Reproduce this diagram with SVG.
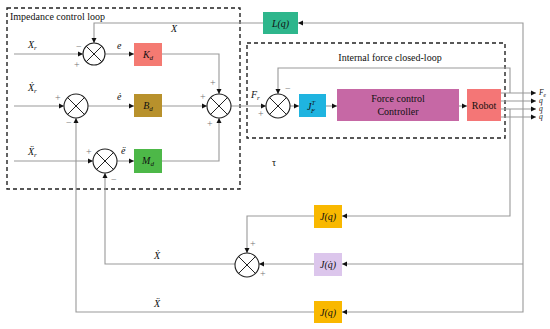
<svg xmlns="http://www.w3.org/2000/svg" width="550" height="329" viewBox="0 0 550 329">
<defs>
<marker id="ar" markerWidth="6" markerHeight="6" refX="5" refY="3" orient="auto" markerUnits="userSpaceOnUse">
<path d="M0,0.5 L5,3 L0,5.5 Z" fill="#111"/>
</marker>
<style>
.ln{fill:none;stroke:#999;stroke-width:1.1;}
.ar{marker-end:url(#ar);}
.dash{fill:none;stroke:#222;stroke-width:1.4;stroke-dasharray:4,3;}
.sum circle{fill:#fff;stroke:#222;stroke-width:1.1;}
.sum path{stroke:#222;stroke-width:1;fill:none;}
.t{font-family:"Liberation Serif",serif;font-size:10px;fill:#111;}
.m{font-family:"Liberation Serif",serif;font-size:10px;font-style:italic;fill:#111;}
.o{font-family:"Liberation Serif",serif;font-size:7.5px;font-style:italic;fill:#111;}
.s{font-family:"Liberation Serif",serif;font-size:10px;fill:#777;}
.box text{text-anchor:middle;}
</style>
</defs>
<rect width="550" height="329" fill="#fff"/>

<g id="frames">
<rect class="dash" x="7" y="8" width="233" height="181"/>
<rect class="dash" x="247" y="43" width="258" height="95"/>
<text class="t" x="10" y="20">Impedance control loop</text>
<text class="t" x="390" y="61" text-anchor="middle">Internal force closed-loop</text>
</g>

<g id="connectors">
<path class="ln ar" d="M14,54 H83"/>
<path class="ln ar" d="M263,23 H94 V43"/>
<path class="ln ar" d="M105,54 H134"/>
<path class="ln ar" d="M162,54 H219 V94"/>
<path class="ln ar" d="M14,106 H64"/>
<path class="ln ar" d="M88,106 H134"/>
<path class="ln ar" d="M162,106 H207"/>
<path class="ln ar" d="M14,161 H93"/>
<path class="ln ar" d="M117,161 H134"/>
<path class="ln ar" d="M161,161 H219 V118"/>
<path class="ln ar" d="M231,106 H266"/>
<path class="ln ar" d="M290,106 H299"/>
<path class="ln ar" d="M326,106 H337"/>
<path class="ln ar" d="M459,106 H467"/>
<path class="ln ar" d="M501,93 H536"/>
<path class="ln ar" d="M501,101 H536"/>
<path class="ln ar" d="M501,109 H536"/>
<path class="ln ar" d="M501,117 H536"/>
<path class="ln ar" d="M510,93 V68 H278 V94"/>
<path class="ln ar" d="M523,101 V23 H298"/>
<path class="ln ar" d="M523,101 V312 H342"/>
<path class="ln ar" d="M523,264 H342"/>
<path class="ln ar" d="M510,109 V216 H342"/>
<path class="ln ar" d="M314,216 H247 V253"/>
<path class="ln ar" d="M314,264 H259"/>
<path class="ln ar" d="M235,264 H105 V173"/>
<path class="ln ar" d="M314,312 H76 V118"/>
</g>

<g id="sum1" class="sum"><circle cx="94" cy="54" r="11"/><path d="M86.2,46.2 L101.8,61.8 M101.8,46.2 L86.2,61.8"/></g>
<g id="sum2" class="sum"><circle cx="76" cy="106" r="12"/><path d="M67.5,97.5 L84.5,114.5 M84.5,97.5 L67.5,114.5"/></g>
<g id="sum3" class="sum"><circle cx="105" cy="161" r="12"/><path d="M96.5,152.5 L113.5,169.5 M113.5,152.5 L96.5,169.5"/></g>
<g id="sum4" class="sum"><circle cx="219" cy="106" r="12"/><path d="M210.5,97.5 L227.5,114.5 M227.5,97.5 L210.5,114.5"/></g>
<g id="sum5" class="sum"><circle cx="278" cy="106" r="12"/><path d="M269.5,97.5 L286.5,114.5 M286.5,97.5 L269.5,114.5"/></g>
<g id="sum6" class="sum"><circle cx="247" cy="265" r="12"/><path d="M238.5,256.5 L255.5,273.5 M255.5,256.5 L238.5,273.5"/></g>

<g id="Kd" class="box"><rect x="134" y="43" width="28" height="23" fill="#f47a72"/><text class="m" x="148" y="58">K<tspan font-size="7" dy="2">d</tspan></text></g>
<g id="Bd" class="box"><rect x="134" y="94" width="28" height="23" fill="#b8912c"/><text class="m" x="148" y="109">B<tspan font-size="7" dy="2">d</tspan></text></g>
<g id="Md" class="box"><rect x="134" y="149" width="28" height="24" fill="#4db848"/><text class="m" x="148" y="164">M<tspan font-size="7" dy="2">d</tspan></text></g>
<g id="JFT" class="box"><rect x="299" y="94" width="27" height="23" fill="#1fb4e0"/><text class="m" x="311" y="110">J<tspan font-size="6.5" dy="-5">T</tspan><tspan font-size="6.5" dx="-4" dy="8">F</tspan></text></g>
<g id="FC" class="box"><rect x="337" y="89" width="122" height="32" fill="#c668a5"/><text class="t" x="398" y="102">Force control</text><text class="t" x="398" y="115">Controller</text></g>
<g id="Robot" class="box"><rect x="467" y="89" width="34" height="32" fill="#f47676"/><text class="t" x="484" y="109">Robot</text></g>
<g id="Lq" class="box"><rect x="263" y="12" width="35" height="22" fill="#2eb68c"/><text class="m" x="280.5" y="27">L(q)</text></g>
<g id="Jq1" class="box"><rect x="314" y="205" width="28" height="23" fill="#f9b800"/><text class="m" x="328" y="220">J(q)</text></g>
<g id="Jdq" class="box"><rect x="314" y="253" width="28" height="23" fill="#dcc6ec"/><text class="m" x="328" y="268">J(q̇)</text></g>
<g id="Jq2" class="box"><rect x="314" y="301" width="28" height="22" fill="#f9b800"/><text class="m" x="328" y="316">J(q)</text></g>

<g id="labels">
<text class="m" x="28" y="48">X<tspan font-size="7" dy="2">r</tspan></text>
<text class="m" x="28" y="91">Ẋ<tspan font-size="7" dy="2">r</tspan></text>
<text class="m" x="28" y="155">Ẍ<tspan font-size="7" dy="2">r</tspan></text>
<text class="m" x="117" y="49">e</text>
<text class="m" x="117" y="100">ė</text>
<text class="m" x="121" y="154">ë</text>
<text class="m" x="171" y="32">X</text>
<text class="m" x="251" y="98">F<tspan font-size="7" dy="2">r</tspan></text>
<text class="t" x="272" y="166">τ</text>
<text class="m" x="154" y="259">Ẋ</text>
<text class="m" x="154" y="307">Ẍ</text>
<text class="o" x="539" y="95">F<tspan font-size="5.5" dy="1.5">e</tspan></text>
<text class="o" x="539" y="103">q</text>
<text class="o" x="539" y="111">q̇</text>
<text class="o" x="539" y="119">q̈</text>
<text class="s" x="76" y="50">−</text>
<text class="s" x="74" y="68">+</text>
<text class="s" x="55" y="101">+</text>
<text class="s" x="66" y="126">−</text>
<text class="s" x="86" y="155">+</text>
<text class="s" x="111" y="183">−</text>
<text class="s" x="210" y="86">+</text>
<text class="s" x="200" y="100">+</text>
<text class="s" x="207" y="127">+</text>
<text class="s" x="258" y="117">+</text>
<text class="s" x="285" y="92">−</text>
<text class="s" x="250" y="247">+</text>
<text class="s" x="260" y="277">+</text>
</g>
</svg>
